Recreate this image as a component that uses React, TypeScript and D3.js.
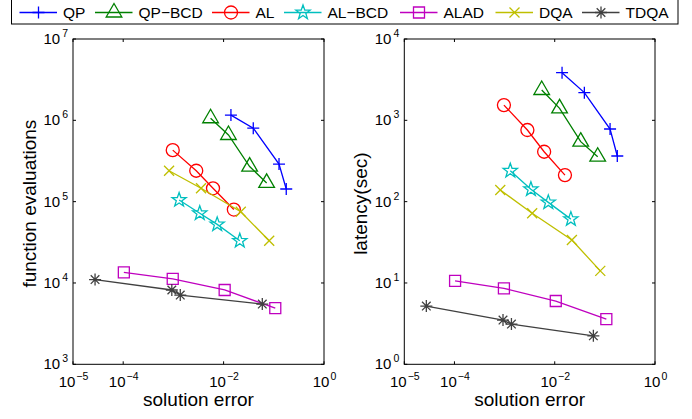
import React, { useEffect, useRef } from "react";
import * as d3 from "d3";

// solution error (shared by both panels)
const qpErr = [0.014, 0.039, 0.127, 0.177];
const qpBcdErr = [0.0055, 0.0125, 0.033, 0.072];
const alErr = [0.00097, 0.00285, 0.00615, 0.016];
const alBcdErr = [0.0013, 0.00335, 0.00745, 0.021];
const aladErr = [0.000103, 0.00097, 0.0105, 0.107];
const dqaErr = [0.00082, 0.00355, 0.022, 0.081];
const tdqaErr = [0.0000275, 0.00093, 0.00137, 0.059];

// function evaluations (left panel)
const qpEvals = [1.16e6, 8.0e5, 2.9e5, 1.43e5];
const qpBcdEvals = [1.06e6, 6.6e5, 2.7e5, 1.7e5];
const alEvals = [4.3e5, 2.4e5, 1.46e5, 8.0e4];
const alBcdEvals = [1.05e5, 7.2e4, 5.25e4, 3.3e4];
const aladEvals = [1.35e4, 1.12e4, 8.2e3, 4.9e3];
const dqaEvals = [2.4e5, 1.46e5, 7.5e4, 3.3e4];
const tdqaEvals = [1.1e4, 8.2e3, 7.1e3, 5.5e3];

// latency in seconds (right panel)
const qpLatency = [3850, 2190, 782, 364];
const qpBcdLatency = [2360, 1405, 546, 357];
const alLatency = [1540, 760, 411, 212];
const alBcdLatency = [240, 142, 98, 61];
const aladLatency = [10.6, 8.6, 6.0, 3.6];
const dqaLatency = [139, 72, 33.7, 14.1];
const tdqaLatency = [5.2, 3.5, 3.12, 2.24];

const methodNames = ["QP", "QP\u2212BCD", "AL", "AL\u2212BCD", "ALAD", "DQA", "TDQA"];
const xTicks = [1e-5, 1e-4, 1e-2, 1];
const evalTicks = [1e3, 1e4, 1e5, 1e6, 1e7];
const latencyTicks = [1, 10, 100, 1000, 10000];

const colors = ["#0000ff", "#008000", "#ff0000", "#00bfbf", "#bf00bf", "#bfbf00", "#404040"];
const markers = ["plus", "triangle", "circle", "star", "square", "x", "asterisk"];

const markerPath = (type: string) => {
  switch (type) {
    case "plus":
      return "M-6,0H6M0,-6V6";
    case "triangle": {
      const r = 9;
      return `M0,${-r}L${0.87 * r},${0.5 * r}L${-0.87 * r},${0.5 * r}Z`;
    }
    case "circle":
      return "M6.5,0A6.5,6.5 0 1,1 -6.5,0A6.5,6.5 0 1,1 6.5,0Z";
    case "star": {
      const pts: string[] = [];
      for (let i = 0; i < 10; i++) {
        const r = i % 2 === 0 ? 7.5 : 3;
        const a = -Math.PI / 2 + (i * Math.PI) / 5;
        pts.push(`${r * Math.cos(a)},${r * Math.sin(a)}`);
      }
      return "M" + pts.join("L") + "Z";
    }
    case "square":
      return "M-5.5,-5.5H5.5V5.5H-5.5Z";
    case "x":
      return "M-5,-5L5,5M-5,5L5,-5";
    case "asterisk":
      return "M-6,0H6M0,-6V6M-4.3,-4.3L4.3,4.3M-4.3,4.3L4.3,-4.3";
  }
  return "";
};

function App() {
  const ref = useRef<SVGSVGElement>(null);

  useEffect(() => {
    const svg = d3.select(ref.current);
    svg.selectAll("*").remove();
    const font = "'Liberation Sans', Arial, Helvetica, sans-serif";

    const errs = [qpErr, qpBcdErr, alErr, alBcdErr, aladErr, dqaErr, tdqaErr];
    const evals = [qpEvals, qpBcdEvals, alEvals, alBcdEvals, aladEvals, dqaEvals, tdqaEvals];
    const lats = [qpLatency, qpBcdLatency, alLatency, alBcdLatency, aladLatency, dqaLatency, tdqaLatency];

    const panels = [
      { left: 73, right: 324, yDomain: [1e3, 1e7], ys: evals, ticks: evalTicks, label: "function evaluations", labelX: 36 },
      { left: 404.3, right: 655, yDomain: [1, 1e4], ys: lats, ticks: latencyTicks, label: "latency(sec)", labelX: 366.5 },
    ];
    const top = 39;
    const bottom = 364.3;

    panels.forEach(p => {
      const x = d3.scaleLog().domain([1e-5, 1]).range([p.left, p.right]);
      const y = d3.scaleLog().domain(p.yDomain).range([bottom, top]);
      const g = svg.append("g");

      g.append("rect")
        .attr("x", p.left).attr("y", top)
        .attr("width", p.right - p.left).attr("height", bottom - top)
        .attr("fill", "white").attr("stroke", "black").attr("stroke-width", 1);

      // ticks (inward, both sides)
      xTicks.forEach(t => {
        const px = x(t);
        g.append("line").attr("x1", px).attr("x2", px).attr("y1", bottom).attr("y2", bottom - 3).attr("stroke", "black");
        g.append("line").attr("x1", px).attr("x2", px).attr("y1", top).attr("y2", top + 3).attr("stroke", "black");
        const exp = Math.round(Math.log10(t));
        const txt = g.append("text")
          .attr("x", px + 0.5).attr("y", 386.7)
          .attr("text-anchor", "middle")
          .style("font-family", font).style("font-size", "15px");
        txt.append("tspan").text("10");
        txt.append("tspan").attr("dx", 1).attr("dy", -7).style("font-size", "10.5px")
          .text(String(exp).replace("-", "\u2212"));
      });
      p.ticks.forEach(t => {
        const py = y(t);
        g.append("line").attr("x1", p.left).attr("x2", p.left + 3).attr("y1", py).attr("y2", py).attr("stroke", "black");
        g.append("line").attr("x1", p.right).attr("x2", p.right - 3).attr("y1", py).attr("y2", py).attr("stroke", "black");
        const exp = Math.round(Math.log10(t));
        const txt = g.append("text")
          .attr("x", p.left - 5).attr("y", py + 5)
          .attr("text-anchor", "end")
          .style("font-family", font).style("font-size", "15px");
        txt.append("tspan").text("10");
        txt.append("tspan").attr("dx", 2).attr("dy", -7).style("font-size", "10.5px").text(String(exp));
      });

      g.append("text")
        .attr("x", (p.left + p.right) / 2).attr("y", 406)
        .attr("text-anchor", "middle")
        .style("font-family", font).style("font-size", "19px")
        .text("solution error");

      g.append("text")
        .attr("transform", `translate(${p.labelX},${(top + bottom) / 2 + 2}) rotate(-90)`)
        .attr("text-anchor", "middle")
        .style("font-family", font).style("font-size", "19px")
        .text(p.label);

      const line = d3.line<[number, number]>().x(d => x(d[0])).y(d => y(d[1]));
      methodNames.forEach((name, i) => {
        const pts: [number, number][] = errs[i].map((e, k) => [e, p.ys[i][k]]);
        g.append("path")
          .attr("d", line(pts) || "")
          .attr("fill", "none").attr("stroke", colors[i]).attr("stroke-width", 1.3);
        g.selectAll(null)
          .data(pts)
          .enter().append("path")
          .attr("transform", d => `translate(${x(d[0])},${y(d[1])})`)
          .attr("d", markerPath(markers[i]))
          .attr("fill", "none").attr("stroke", colors[i]).attr("stroke-width", 1.3);
      });
    });

    // legend
    const legendX = [19.5, 95, 212, 284, 400, 495.5, 582];
    const lg = svg.append("g");
    lg.append("rect")
      .attr("x", 11.5).attr("y", -1).attr("width", 666.5).attr("height", 25)
      .attr("fill", "white").attr("stroke", "black").attr("stroke-width", 1);
    methodNames.forEach((name, i) => {
      const lx = legendX[i];
      const cy = 12.5;
      lg.append("line").attr("x1", lx).attr("x2", lx + 37.5).attr("y1", cy).attr("y2", cy)
        .attr("stroke", colors[i]).attr("stroke-width", 1.3);
      lg.append("path").attr("transform", `translate(${lx + 19},${cy})`)
        .attr("d", markerPath(markers[i]))
        .attr("fill", "none").attr("stroke", colors[i]).attr("stroke-width", 1.3);
      lg.append("text").attr("x", lx + 43.5).attr("y", 18.3)
        .style("font-family", font).style("font-size", "15.5px")
        .text(name);
    });
  }, []);

  return (
    <svg
      ref={ref}
      width={692}
      height={419}
      style={{ position: "absolute", left: 0, top: 0, background: "white" }}
    />
  );
}

export default App;
